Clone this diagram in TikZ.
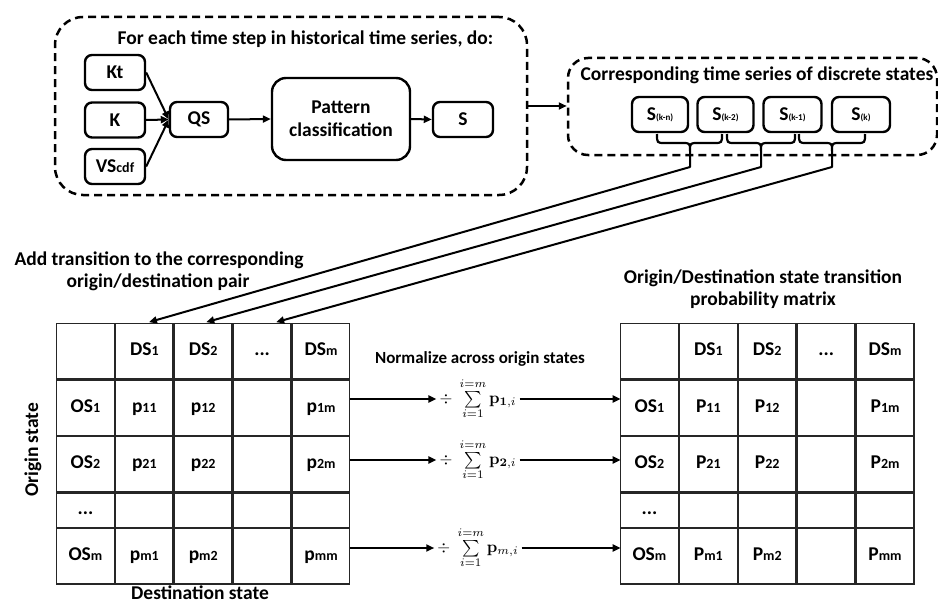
\documentclass[tikz,border=0pt]{standalone}
\usepackage[no-math]{fontspec}
\setmainfont{Carlito}
\usetikzlibrary{arrows.meta,matrix,calc}

% smaller index text set on the baseline
\newcommand{\smallsub}[1]{{\fontsize{14}{14}\selectfont #1}}
\newcommand{\tinysub}[1]{{\fontsize{9}{9}\selectfont #1}}
\newcommand{\normsum}[1]{\scalebox{1.65}{\normalsize\mdseries$\div\;\sum\limits_{i=1}^{i=m}\mathbf{p}_{#1,i}$}}

\begin{document}
\begin{tikzpicture}[x=1pt,y=-1pt,
  every node/.style={font=\fontsize{19.5}{23}\selectfont\bfseries, inner sep=0pt},
  box/.style={draw, line width=2.4pt, rounded corners=7pt, minimum width=60pt, minimum height=35pt},
  group/.style={draw, line width=2.5pt, dash pattern=on 8pt off 5pt, rounded corners=26pt},
  flow/.style={line width=2pt, -{Triangle[length=8pt,width=7pt]}},
  bracket/.style={line width=2.2pt, line join=round},
  sumlabel/.style={inner xsep=3pt, inner ysep=1pt},
  grid/.style={matrix of nodes, nodes in empty cells, inner sep=0pt, outer sep=0pt,
    column sep=0pt, row sep=0pt,
    nodes={draw=black!85, line width=1.3pt, minimum width=57.6pt, minimum height=55.25pt,
      text height=13pt, text depth=4pt, outer sep=0pt, anchor=center},
    row 4/.style={nodes={minimum height=34pt}}},
]
\useasboundingbox (0,0) rectangle (938,602);

% ---- per-step processing ----
\node[group, rounded corners=28pt, minimum width=472pt, minimum height=178pt] (stepgroup) at (291,106) {};
\node[anchor=base] (steptitle) at (305.5,45) {For each time step in historical time series, do:};
\node[box] (kt) at (115,72.5) {Kt};
\node[box] (k) at (115,120) {K};
\node[box] (vs) at (115,166.5) {VS\smallsub{cdf}};
\node[box, minimum width=58pt] (qs) at (199,119.5) {QS};
\node[box, minimum width=138pt, minimum height=82pt, rounded corners=14pt, align=center] (pc) at (341,119) {Pattern\\classification};
\node[box] (s) at (463,119.5) {S};

\draw[flow] (kt.east) -- (qs.west);
\draw[flow] (k.east) -- (qs.west);
\draw[flow] (vs.east) -- (qs.west);
\draw[flow] (qs.east) -- (pc.west);
\draw[flow] (pc.east) -- (s.west);

% ---- sequence of discrete states ----
\node[group, rounded corners=20pt, minimum width=369pt, minimum height=97pt] (seqgroup) at (752.5,106.5) {};
\node[anchor=base] (seqtitle) at (757,81) {Corresponding time series of discrete states};
\node[box, minimum width=56pt] (skn) at (660,114.5) {S\tinysub{(k-n)}};
\node[box, minimum width=56pt] (sk2) at (725.5,114.5) {S\tinysub{(k-2)}};
\node[box, minimum width=58pt] (sk1) at (792.5,114.5) {S\tinysub{(k-1)}};
\node[box, minimum width=58pt] (sk) at (861,114.5) {S\tinysub{(k)}};

\draw[flow] (stepgroup.east) -- (stepgroup.east -| seqgroup.west);

% braces pairing consecutive states
\foreach \a/\m/\b/\n in {657/690/722/1, 727/761/795/2, 799/832/865/3} {
  \draw[bracket] (\a,134) .. controls (\a,143) .. (\a+8,143) -- (\m-8,143)
    .. controls (\m,143) .. (\m,151) .. controls (\m,143) .. (\m+8,143)
    -- (\b-8,143) .. controls (\b,143) .. (\b,134);
  \coordinate (tip\n) at (\m,151);
  \coordinate (bend\n) at (\m,167);
}

% ---- counting matrix ----
\node[anchor=base] (addl1) at (159,265) {Add transition to the corresponding};
\node[anchor=base] (addl2) at (158,287) {origin/destination pair};

\matrix (A) [grid, anchor=north west] at (56,323) {
  & DS\smallsub{1} & DS\smallsub{2} & ... & DS\smallsub{m} \\
  OS\smallsub{1} & p\smallsub{11} & p\smallsub{12} & & p\smallsub{1m} \\
  OS\smallsub{2} & p\smallsub{21} & p\smallsub{22} & & p\smallsub{2m} \\
  ... & & & & \\
  OS\smallsub{m} & p\smallsub{m1} & p\smallsub{m2} & & p\smallsub{mm} \\
};
\node[rotate=90, anchor=base] (origin) at (38,450) {Origin state};
\node[anchor=base] (dest) at (200,599) {Destination state};

\draw[flow, line join=round] (tip1) -- (bend1) -- ([xshift=4.6pt,yshift=1.5pt]A-1-2.north);
\draw[flow, line join=round] (tip2) -- (bend2) -- ([xshift=3pt,yshift=1.5pt]A-1-3.north);
\draw[flow, line join=round] (tip3) -- (bend3) -- ([xshift=14pt,yshift=1.5pt]A-1-4.north);

% ---- normalisation ----
\node[anchor=base, font=\fontsize{17}{20}\selectfont\bfseries] (norm) at (480,363) {Normalize across origin states};
\node[sumlabel] (n1) at (478,399) {\normsum{\mathbf{1}}};
\node[sumlabel] (n2) at (478,460) {\normsum{\mathbf{2}}};
\node[sumlabel] (n3) at (478,548) {\normsum{m}};

% ---- probability matrix ----
\node[anchor=base] (odl1) at (763,283) {Origin/Destination state transition};
\node[anchor=base] (odl2) at (763,305) {probability matrix};

\matrix (B) [grid, anchor=north west] at (620,323) {
  & DS\smallsub{1} & DS\smallsub{2} & ... & DS\smallsub{m} \\
  OS\smallsub{1} & P\smallsub{11} & P\smallsub{12} & & P\smallsub{1m} \\
  OS\smallsub{2} & P\smallsub{21} & P\smallsub{22} & & P\smallsub{2m} \\
  ... & & & & \\
  OS\smallsub{m} & P\smallsub{m1} & P\smallsub{m2} & & P\smallsub{mm} \\
};

\draw[flow] (A-2-5.east |- n1.west) -- (n1.west);
\draw[flow] (A-3-5.east |- n2.west) -- (n2.west);
\draw[flow] (A-5-5.east |- n3.west) -- (n3.west);
\draw[flow] (n1.east) -- (n1.east -| B-2-1.west);
\draw[flow] (n2.east) -- (n2.east -| B-3-1.west);
\draw[flow] (n3.east) -- (n3.east -| B-5-1.west);
\end{tikzpicture}
\end{document}
